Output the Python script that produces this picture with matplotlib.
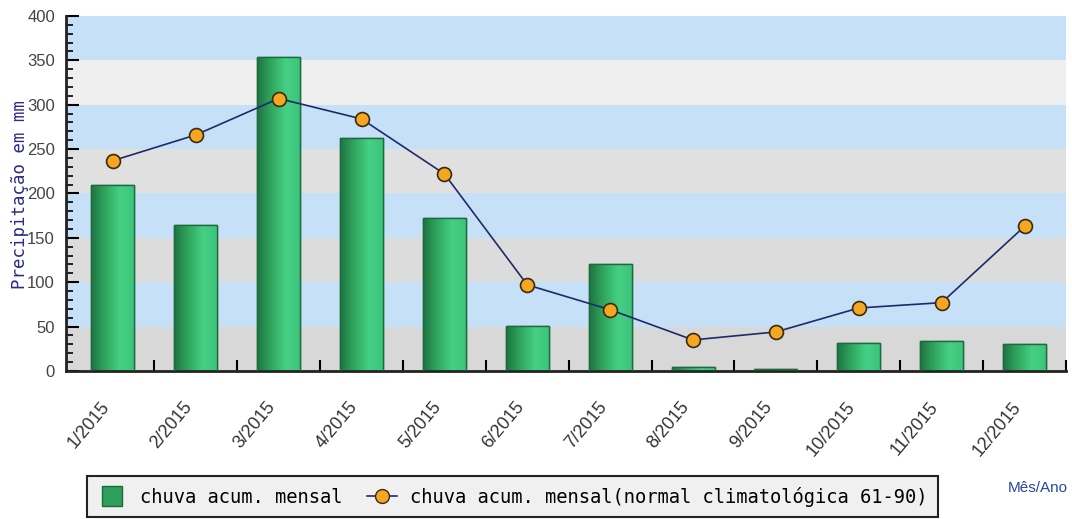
import numpy as np
import matplotlib
matplotlib.use("Agg")
import matplotlib.pyplot as plt
import matplotlib.transforms as mtransforms
from matplotlib.colors import LinearSegmentedColormap
from matplotlib.lines import Line2D

meses = ["1/2015", "2/2015", "3/2015", "4/2015", "5/2015", "6/2015",
         "7/2015", "8/2015", "9/2015", "10/2015", "11/2015", "12/2015"]
chuva = [210, 165, 354, 263, 172, 51, 121, 5, 2, 32, 34, 30]
normal = [237, 266, 307, 284, 222, 97, 69, 35, 44, 71, 77, 163]
faixas = [0, 50, 100, 150, 200, 250, 300, 350, 400]
cores_faixas = ["#d8d8d8", "#c6e0f8", "#dcdcdc", "#c6e0f8",
                "#e0e0e0", "#c6e0f8", "#efefef", "#c6e0f8"]

fig = plt.figure(figsize=(10.72, 5.19), dpi=100)
ax = fig.add_axes([0.0616, 0.2852, 0.9328, 0.684])

x = np.arange(len(meses))

# faixas de fundo
for (y0, y1), c in zip(zip(faixas[:-1], faixas[1:]), cores_faixas):
    ax.axhspan(y0, y1, color=c, zorder=0, lw=0)

# barras com gradiente
bars = ax.bar(x, chuva, width=0.52, color="#33b066", edgecolor="#1d6b3d",
              linewidth=1, zorder=2)
cmap = LinearSegmentedColormap.from_list("verde", ["#1f7442", "#30a85f", "#45d085", "#3cc47a"])
grad = np.linspace(0, 1, 64).reshape(1, -1)
for b in bars:
    bx, by = b.get_x(), b.get_y()
    w, h = b.get_width(), b.get_height()
    im = ax.imshow(grad, cmap=cmap, aspect="auto", extent=(bx, bx + w, by, by + h),
                   zorder=2.5, interpolation="bilinear")
    im.set_clip_path(b)
    ax.add_patch(plt.Rectangle((bx, by), w, h, fill=False, edgecolor="#1d6b3d",
                               linewidth=1, zorder=2.6))

# linha normal climatologica
ax.plot(x, normal, color="#1f2a6b", lw=1.2, zorder=3, marker="o", markersize=10,
        markerfacecolor="#f5a623", markeredgecolor="#3a2a10", markeredgewidth=1.2)

ax.set_xlim(-0.566, 11.5)
ax.set_ylim(0, 400)

for s in ["top", "right"]:
    ax.spines[s].set_visible(False)
for s in ["left", "bottom"]:
    ax.spines[s].set_linewidth(2)
    ax.spines[s].set_color("#222222")

ax.set_yticks(np.arange(0, 401, 50))
ax.set_yticks(np.arange(0, 401, 10), minor=True)
ax.tick_params(axis="y", which="major", direction="in", length=9, width=1.5,
               labelsize=12, labelcolor="#444444", pad=8)
ax.tick_params(axis="y", which="minor", direction="in", length=5, width=1.2)

ax.set_xticks(x + 0.5, minor=True)
ax.set_xticks(x)
ax.set_xticklabels(meses, rotation=50, ha="right", va="top", rotation_mode="anchor",
                   fontsize=13, color="#333333")
ax.tick_params(axis="x", which="major", length=0, pad=20)
ax.tick_params(axis="x", which="minor", direction="in", length=8, width=1.5)

# desloca rotulos do eixo x um pouco para a esquerda
desloc = mtransforms.ScaledTranslation(-13 / 100, 0, fig.dpi_scale_trans)
for lab in ax.get_xticklabels():
    lab.set_transform(lab.get_transform() + desloc)

for lab in ax.get_yticklabels() + ax.get_xticklabels():
    lab.set_family("Liberation Sans")

fig.text(0.019, 0.625, "Precipitação em mm", rotation=90, ha="center", va="center",
         family="DejaVu Sans Mono", fontsize=12.5, color="#2a2a8a")
fig.text(0.996, 0.06, "Mês/Ano", ha="right", va="center",
         family="Liberation Sans", fontsize=11, color="#2447a8")

handles = [Line2D([0], [0], linestyle="none", marker="s", markersize=14,
                  markerfacecolor="#2e9e5c", markeredgecolor="#1d6b3d"),
           Line2D([0], [0], color="#1f2a6b", lw=1.2, marker="o", markersize=10,
                  markerfacecolor="#f5a623", markeredgecolor="#3a2a10")]
leg = fig.legend(handles, ["chuva acum. mensal",
                           "chuva acum. mensal(normal climatológica 61-90)"],
                 loc="lower left", bbox_to_anchor=(0.081, 0.004), ncol=2,
                 frameon=True, fancybox=False, edgecolor="#222222",
                 facecolor="#f0f0f0", framealpha=1,
                 prop={"family": "DejaVu Sans Mono", "size": 13.5},
                 handlelength=1.6, handletextpad=0.7, columnspacing=1.3,
                 borderpad=0.55, borderaxespad=0)
leg.get_frame().set_linewidth(1.5)

fig.savefig("out.png", dpi=100)
